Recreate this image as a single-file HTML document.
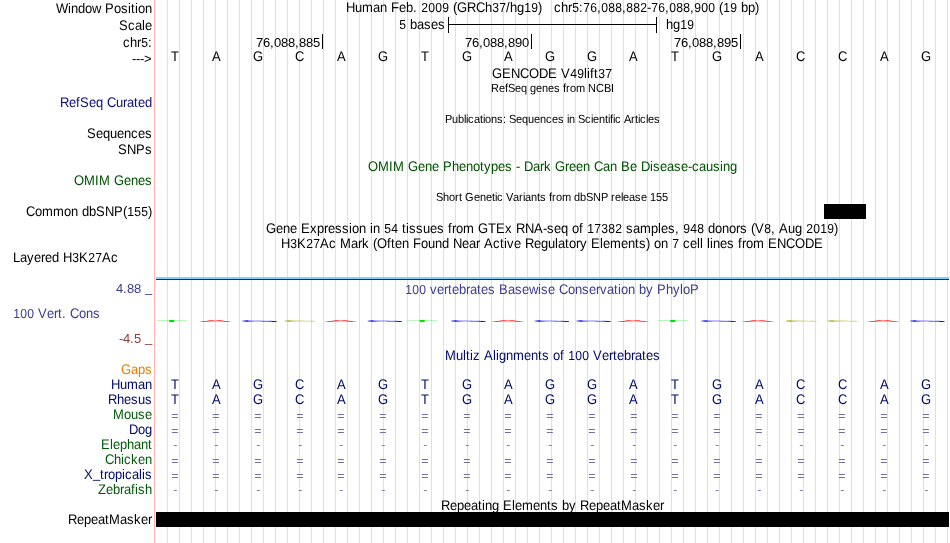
<!DOCTYPE html>
<html lang="en"><head><meta charset="utf-8"><title>UCSC Genome Browser hg19 chr5:76,088,882-76,088,900</title>
<style>
html,body{margin:0;padding:0;background:#fff;overflow:hidden}
svg{display:block;font-family:"Liberation Sans",Arial,Helvetica,sans-serif;font-size:13px}
rect,path{shape-rendering:crispEdges}
</style></head><body>
<svg width="950" height="543" viewBox="0 0 950 543">
<path d="M167.5 0V543M179.5 0V543M191.5 0V543M203.5 0V543M215.5 0V543M227.5 0V543M239.5 0V543M251.5 0V543M263.5 0V543M275.5 0V543M287.5 0V543M299.5 0V543M311.5 0V543M323.5 0V543M335.5 0V543M347.5 0V543M359.5 0V543M371.5 0V543M383.5 0V543M395.5 0V543M407.5 0V543M419.5 0V543M431.5 0V543M443.5 0V543M455.5 0V543M467.5 0V543M479.5 0V543M491.5 0V543M503.5 0V543M515.5 0V543M527.5 0V543M539.5 0V543M551.5 0V543M563.5 0V543M575.5 0V543M587.5 0V543M599.5 0V543M611.5 0V543M623.5 0V543M635.5 0V543M647.5 0V543M659.5 0V543M671.5 0V543M683.5 0V543M695.5 0V543M707.5 0V543M719.5 0V543M731.5 0V543M743.5 0V543M755.5 0V543M767.5 0V543M779.5 0V543M791.5 0V543M803.5 0V543M815.5 0V543M827.5 0V543M839.5 0V543M851.5 0V543M863.5 0V543M875.5 0V543M887.5 0V543M899.5 0V543M911.5 0V543M923.5 0V543M935.5 0V543M947.5 0V543" stroke="#dcdcff" stroke-width="1" fill="none"/>
<rect x="154" y="0" width="1" height="543" fill="#ffb3b3"/>
<text x="132 136 140 144" y="63">---&gt;</text>
<text x="116 123 127 134 141 145" y="293" fill="#3c3c8c">4.88 <tspan dy="-1">_</tspan></text>
<text x="119 123 130 134 141 145" y="343" fill="#8c3c3c">-4.5 <tspan dy="-1">_</tspan></text>
<rect x="448" y="24" width="209" height="1" fill="#000"/>
<rect x="448" y="17" width="1" height="16" fill="#000"/>
<rect x="656" y="17" width="1" height="16" fill="#000"/>
<rect x="322" y="34" width="1" height="15" fill="#000"/>
<text x="256 263 270 274 281 288 295 299 306 313" y="47">76,088,885</text>
<rect x="531" y="34" width="1" height="15" fill="#000"/>
<text x="465 472 479 483 490 497 504 508 515 522" y="47">76,088,890</text>
<rect x="740" y="34" width="1" height="15" fill="#000"/>
<text x="674 681 688 692 699 706 713 717 724 731" y="47">76,088,895</text>
<rect x="824" y="204" width="42" height="15" fill="#000"/>
<rect x="156" y="277" width="793" height="2" fill="#7dd3ff"/>
<rect x="156" y="279" width="793" height="1" fill="#1a2460"/>
<rect x="156" y="512" width="793" height="15" fill="#000"/>
<g transform="scale(1 1.07)" text-rendering="geometricPrecision">
<text x="56 68 71 78 85 92 101 105 114 121 128 131 135 138 145" y="12.15">Window Position</text>
<text x="119 128 135 142 145" y="28.04">Scale</text>
<text x="123 130 137 141.25 148" y="43.93">chr<tspan font-size="12.15">5</tspan>:</text>
<text x="60 69 76 80 89 96 103 107 116 123 127 134 138 145" y="100.00" fill="#0c0c78">RefSeq Curated</text>
<text x="87 96 103 110 117 124 131 138 145" y="128.97">Sequences</text>
<text x="118 127 136 145" y="143.93">SNPs</text>
<text x="74 84 95 99 110 114 124 131 138 145" y="172.90" fill="#005000">OMIM Genes</text>
<text x="26 35 42 53 64 71 78 82 89 96 105 114 123 127.25 134.25 141.25 148" y="201.87">Common dbSNP(<tspan font-size="12.15">155</tspan>)</text>
<text x="13 20 27 34 41 45 52 59 63 72.25 79 88.25 95.25 102 111" y="244.86">Layered H<tspan font-size="12.15">3</tspan>K<tspan font-size="12.15">27</tspan>Ac</text>
<text x="13.25 20.25 27.25 34 38 47 54 58 62 66 70 79 86 93" y="297.20" fill="#3c3c8c"><tspan font-size="12.15">100</tspan> Vert. Cons</text>
<text x="121 131 138 145" y="349.53" fill="#e68200">Gaps</text>
<text x="111 120 127 138 145" y="363.55" fill="#000a64">Human</text>
<text x="108 117 124 131 138 145" y="377.57" fill="#000a64">Rhesus</text>
<text x="113 124 131 138 145" y="391.59" fill="#005a0a">Mouse</text>
<text x="129 138 145" y="405.61" fill="#000a64">Dog</text>
<text x="101 110 113 120 127 134 141 148" y="419.63" fill="#005a0a">Elephant</text>
<text x="105 114 121 124 131 138 145" y="433.64" fill="#005a0a">Chicken</text>
<text x="84 93 100 104 108 115 122 125 132 139 142 145" y="447.66" fill="#000a64">X<tspan dy="-0.93">_</tspan><tspan dy="0.93">tropicalis</tspan></text>
<text x="98 106 113 120 124 131 135 138 145" y="461.68" fill="#005a0a">Zebrafish</text>
<text x="68 77 84 91 98 105 109 120 127 134 141 148" y="489.72">RepeatMasker</text>
<text x="346 355 362 373 380 387 391 399 406 413 417 421.25 428.25 435.25 442.25 449 453 457 467 476 485 492.25 499.25 506 510 517 524.25 531.25 538" y="11.21">Human Feb. <tspan font-size="12.15">2009</tspan> (GRCh<tspan font-size="12.15">37</tspan>/hg<tspan font-size="12.15">19</tspan>)</text>
<text x="554 561 568 572.25 579 583.25 590.25 597 601.25 608.25 615.25 622 626.25 633.25 640.25 647 651.25 658.25 665 669.25 676.25 683.25 690 694.25 701.25 708.25 715 719 723.25 730.25 737 741 748 755" y="11.21">chr<tspan font-size="12.15">5</tspan>:<tspan font-size="12.15">76</tspan>,<tspan font-size="12.15">088</tspan>,<tspan font-size="12.15">882</tspan>-<tspan font-size="12.15">76</tspan>,<tspan font-size="12.15">088</tspan>,<tspan font-size="12.15">900</tspan> (<tspan font-size="12.15">19</tspan> bp)</text>
<text x="399.25 406 410 417 424 431 438" y="27.10"><tspan font-size="12.15">5</tspan> bases</text>
<text x="666 673 680.25 687.25" y="27.10">hg<tspan font-size="12.15">19</tspan></text>
<text x="171" y="57.01">T</text>
<text x="212" y="57.01">A</text>
<text x="253" y="57.01">G</text>
<text x="295" y="57.01">C</text>
<text x="337" y="57.01">A</text>
<text x="378" y="57.01">G</text>
<text x="421" y="57.01">T</text>
<text x="462" y="57.01">G</text>
<text x="504" y="57.01">A</text>
<text x="545" y="57.01">G</text>
<text x="587" y="57.01">G</text>
<text x="629" y="57.01">A</text>
<text x="671" y="57.01">T</text>
<text x="712" y="57.01">G</text>
<text x="755" y="57.01">A</text>
<text x="796" y="57.01">C</text>
<text x="838" y="57.01">C</text>
<text x="880" y="57.01">A</text>
<text x="921" y="57.01">G</text>
<text x="492 502 511 520 529 539 548 557 561 570.25 577.25 584 587 590 594 598.25 605.25" y="72.90">GENCODE V<tspan font-size="12.15">49</tspan>lift<tspan font-size="12.15">37</tspan></text>
<text x="491 499 505 508 515 521 527 530 536 542 548 554 560 563 566 570 576 585 588 596 604 611" y="85.98" font-size="11">RefSeq genes from NCBI</text>
<text x="445 452 458 464 466 468 474 480 483 485 491 497 503 506 509 516 522 528 534 540 546 552 558 564 567 569 575 578 585 591 593 599 605 608 610 613 615 621 624 631 635 638 640 646 648 654" y="114.95" font-size="11">Publications: Sequences in Scientific Articles</text>
<text x="368 378 389 393 404 408 418 425 432 439 443 452 459 466 473 480 484 491 498 505 512 516 520 524 533 540 544 551 555 565 569 576 583 590 594 603 610 617 621 630 637 641 650 653 660 667 674 681 688 692 699 706 713 720 723 730" y="159.81" fill="#005000">OMIM Gene Phenotypes - Dark Green Can Be Disease-causing</text>
<text x="436 443 449 455 459 462 465 474 480 486 492 495 497 503 506 513 519 523 525 531 537 540 546 549 552 556 562 571 574 580 586 593 601 608 611 615 621 623 629 635 641 647 650 656 662" y="187.85" font-size="11">Short Genetic Variants from dbSNP release 155</text>
<text x="266 276 283 290 297 301 310 317 324 328 335 342 349 352 359 366 370 373 380 384.25 391.25 398 402 406 409 416 423 430 437 444 448 452 456 463 474 478 488 496 505 512 516 525 534 543 547 554 561 568 572 579 583 587.25 594.25 601.25 608.25 615.25 622 626 633 640 651 658 661 668 675 679 683.25 690.25 697.25 704 708 715 722 729 736 740 747 751 755 764.25 771 775 779 788 795 802 806.25 813.25 820.25 827.25 834" y="217.76">Gene Expression in <tspan font-size="12.15">54</tspan> tissues from GTEx RNA-seq of <tspan font-size="12.15">17382</tspan> samples, <tspan font-size="12.15">948</tspan> donors (V<tspan font-size="12.15">8</tspan>, Aug <tspan font-size="12.15">2019</tspan>)</text>
<text x="281 290.25 297 306.25 313.25 320 329 336 340 351 358 362 369 373 377 387 391 395 402 409 413 421 428 435 442 449 453 462 469 476 480 484 493 500 504 507 514 521 525 534 541 548 555 558 565 569 576 580 587 591 600 603 610 621 628 635 639 646 650 654 661 668 672.25 679 683 690 697 700 703 707 710 713 720 727 734 738 742 746 753 764 768 777 786 795 805 814" y="231.78">H<tspan font-size="12.15">3</tspan>K<tspan font-size="12.15">27</tspan>Ac Mark (Often Found Near Active Regulatory Elements) on <tspan font-size="12.15">7</tspan> cell lines from ENCODE</text>
<text x="405.25 412.25 419.25 426 430 437 444 448 452 459 466 470 477 481 488 495 499 508 515 522 529 538 541 548 555 559 568 575 582 589 596 600 607 614 618 621 628 635 639 646 653 657 666 673 680 683 690" y="274.77" fill="#3c3c8c"><tspan font-size="12.15">100</tspan> vertebrates Basewise Conservation by PhyloP</text>
<text x="445 456 463 466 470 473 480 484 493 496 499 506 513 524 531 538 542 549 553 560 564 568.25 575.25 582.25 589 593 602 609 613 617 624 631 635 642 646 653" y="336.45" fill="#000a64">Multiz Alignments of <tspan font-size="12.15">100</tspan> Vertebrates</text>
<text x="171" y="363.55" fill="#000a64">T</text>
<text x="212" y="363.55" fill="#000a64">A</text>
<text x="253" y="363.55" fill="#000a64">G</text>
<text x="295" y="363.55" fill="#000a64">C</text>
<text x="337" y="363.55" fill="#000a64">A</text>
<text x="378" y="363.55" fill="#000a64">G</text>
<text x="421" y="363.55" fill="#000a64">T</text>
<text x="462" y="363.55" fill="#000a64">G</text>
<text x="504" y="363.55" fill="#000a64">A</text>
<text x="545" y="363.55" fill="#000a64">G</text>
<text x="587" y="363.55" fill="#000a64">G</text>
<text x="629" y="363.55" fill="#000a64">A</text>
<text x="671" y="363.55" fill="#000a64">T</text>
<text x="712" y="363.55" fill="#000a64">G</text>
<text x="755" y="363.55" fill="#000a64">A</text>
<text x="796" y="363.55" fill="#000a64">C</text>
<text x="838" y="363.55" fill="#000a64">C</text>
<text x="880" y="363.55" fill="#000a64">A</text>
<text x="921" y="363.55" fill="#000a64">G</text>
<text x="171" y="377.57" fill="#000a64">T</text>
<text x="212" y="377.57" fill="#000a64">A</text>
<text x="253" y="377.57" fill="#000a64">G</text>
<text x="295" y="377.57" fill="#000a64">C</text>
<text x="337" y="377.57" fill="#000a64">A</text>
<text x="378" y="377.57" fill="#000a64">G</text>
<text x="421" y="377.57" fill="#000a64">T</text>
<text x="462" y="377.57" fill="#000a64">G</text>
<text x="504" y="377.57" fill="#000a64">A</text>
<text x="545" y="377.57" fill="#000a64">G</text>
<text x="587" y="377.57" fill="#000a64">G</text>
<text x="629" y="377.57" fill="#000a64">A</text>
<text x="671" y="377.57" fill="#000a64">T</text>
<text x="712" y="377.57" fill="#000a64">G</text>
<text x="755" y="377.57" fill="#000a64">A</text>
<text x="796" y="377.57" fill="#000a64">C</text>
<text x="838" y="377.57" fill="#000a64">C</text>
<text x="880" y="377.57" fill="#000a64">A</text>
<text x="921" y="377.57" fill="#000a64">G</text>
<text x="441 450 457 464 471 478 482 485 492 499 503 512 515 522 533 540 547 551 558 562 569 576 580 589 596 603 610 617 621 632 639 646 653 660" y="476.64">Repeating Elements by RepeatMasker</text>
</g>
<g transform="scale(1.13 1)" font-size="11" fill="#7070ac">
<text x="151.66 187.94 225.11 262.27 298.56 335.73 372.89 410.06 446.35 483.51 520.68 557.85 594.13 631.30 668.47 705.64 741.92 779.09 816.26" y="420">===================</text>
<text x="151.66 187.94 225.11 262.27 298.56 335.73 372.89 410.06 446.35 483.51 520.68 557.85 594.13 631.30 668.47 705.64 741.92 779.09 816.26" y="435">===================</text>
<text x="153.26 189.54 226.71 263.88 300.16 337.33 374.50 411.66 447.95 485.12 522.28 559.45 595.73 632.90 670.07 707.24 743.52 780.69 817.86" y="448">-------------------</text>
<text x="151.66 187.94 225.11 262.27 298.56 335.73 372.89 410.06 446.35 483.51 520.68 557.85 594.13 631.30 668.47 705.64 741.92 779.09 816.26" y="465">===================</text>
<text x="151.66 187.94 225.11 262.27 298.56 335.73 372.89 410.06 446.35 483.51 520.68 557.85 594.13 631.30 668.47 705.64 741.92 779.09 816.26" y="480">===================</text>
<text x="153.26 189.54 226.71 263.88 300.16 337.33 374.50 411.66 447.95 485.12 522.28 559.45 595.73 632.90 670.07 707.24 743.52 780.69 817.86" y="493">-------------------</text>
</g>
<g text-rendering="geometricPrecision">
<text transform="scale(4.04 0.215)" x="38.59 100.57 162.56" y="1497.7" fill="#00e000">TTT</text>
<text transform="scale(3.88 0.215)" x="51.23 83.50 126.53 158.80 191.07 223.34" y="1497.7" fill="#ff0000">AAAAAA</text>
<text transform="scale(4.1 0.215)" x="58.43 88.97 109.33 129.69 139.87 170.40 221.30" y="1497.7" fill="#0000ff">GGGGGGG</text>
<text transform="scale(3.97 0.215)" x="71.07 197.22 207.74" y="1497.7" fill="#aaaa10">CCC</text>
</g>
</svg>
</body></html>
